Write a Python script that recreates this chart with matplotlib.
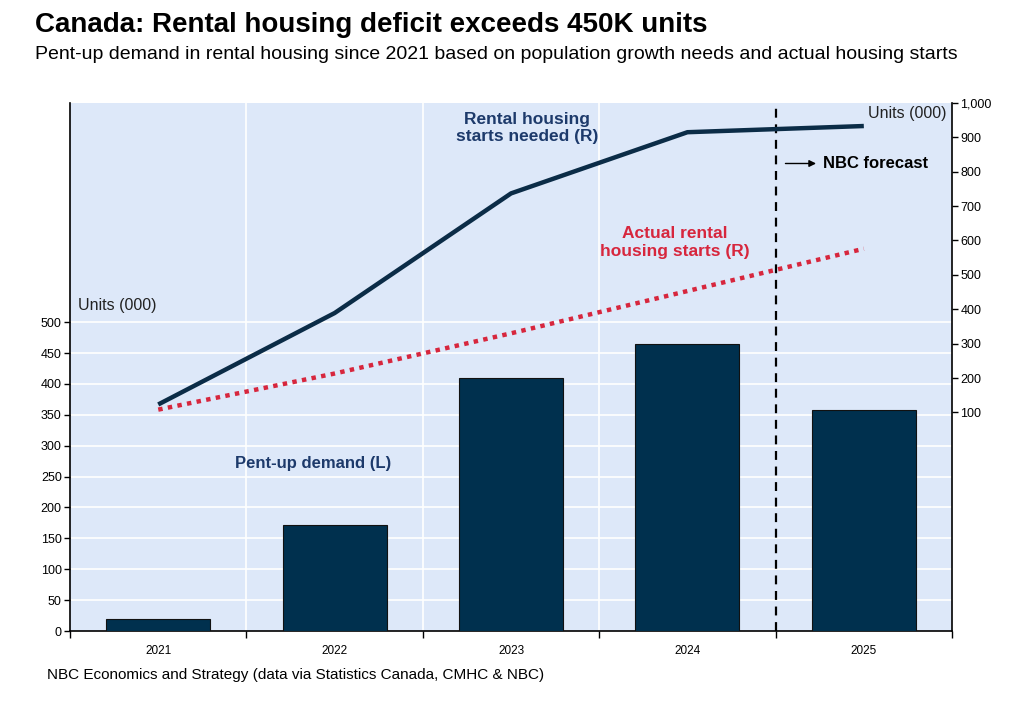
import numpy as np
import matplotlib
matplotlib.use('Agg')
import matplotlib.pyplot as plt

plt.rcParams['font.family'] = ['Liberation Sans', 'DejaVu Sans']

years = ['2021', '2022', '2023', '2024', '2025']
pent_up = [19, 172, 410, 465, 358]          # left axis, bars
needed = [123, 389, 737, 915, 933]          # right axis
actual = [108, 213, 330, 453, 576]          # right axis

navy = '#00304e'
line_navy = '#0b2c47'
red = '#d7263d'
bg = '#dde8f9'
narrow = ['Liberation Sans Narrow', 'Liberation Sans']

fig = plt.figure(figsize=(10.24, 7.03), dpi=100)
ax = fig.add_axes([0.0684, 0.1024, 0.8613, 0.7511])
ax.set_facecolor(bg)
x = np.arange(len(years))

ax.bar(x, pent_up, width=0.59, color=navy, edgecolor='#111111', linewidth=0.8, zorder=3)
ax.set_xlim(-0.5, 4.5)
ax.set_ylim(0, 855)
ax.set_yticks(np.arange(0, 501, 50))
ax.set_yticklabels([str(v) for v in range(0, 501, 50)], family=narrow, fontsize=9)
for v in range(50, 501, 50):
    ax.axhline(v, color='white', lw=1.2, zorder=1)
for b in [0.5, 1.5, 2.5]:
    ax.axvline(b, color='white', lw=1.2, zorder=1)
ax.axvline(3.5, color='black', lw=1.6, ls=(0, (4, 3)), zorder=4)

ax.set_xticks(x)
ax.set_xticklabels(years, family=narrow, fontsize=8.5)
ax.set_xticks(np.arange(-0.5, 4.6, 1), minor=True)
ax.tick_params(axis='x', which='major', length=0, pad=10)
ax.tick_params(axis='x', which='minor', length=5, width=1, direction='out')
ax.tick_params(axis='y', length=4, width=1, direction='out', pad=2)
for s in ['top', 'right']:
    ax.spines[s].set_visible(False)
ax.spines['left'].set_linewidth(1.2)
ax.spines['bottom'].set_linewidth(1.2)

ax2 = ax.twinx()
ax2.set_ylim(-536, 1000)
ax2.plot(x, needed, color=line_navy, lw=3.2, solid_capstyle='butt', zorder=5)
ax2.plot(x, actual, color=red, lw=3.2, ls=(0, (1, 1.2)), zorder=5)
ax2.set_yticks(np.arange(100, 1001, 100))
ax2.set_yticklabels(['100', '200', '300', '400', '500', '600', '700', '800', '900', '1,000'],
                    family=narrow, fontsize=9)
ax2.tick_params(axis='y', length=4, width=1, direction='out', pad=2)
for s in ['top', 'left', 'bottom']:
    ax2.spines[s].set_visible(False)
ax2.spines['right'].set_linewidth(1.2)

# annotations
ax2.text(2.09, 928, 'Rental housing\nstarts needed (R)', color='#1d3a6b', fontsize=12.5,
         fontweight='bold', ha='center', va='center', linespacing=1.2)
ax2.text(2.93, 594, 'Actual rental\nhousing starts (R)', color=red, fontsize=12.5,
         fontweight='bold', ha='center', va='center', linespacing=1.2)
ax.text(0.88, 272, 'Pent-up demand (L)', color='#1d3a6b', fontsize=12,
        fontweight='bold', ha='center', va='center')
ax.text(-0.455, 527, 'Units (000)', color='#222222', fontsize=11.5, ha='left', va='center')
ax2.text(4.466, 970, 'Units (000)', color='#222222', fontsize=11.5, ha='right', va='center')
ax2.annotate('', xy=(3.745, 824), xytext=(3.54, 824),
             arrowprops=dict(arrowstyle='-|>', color='black', lw=1, mutation_scale=10))
ax2.text(3.77, 824, 'NBC forecast', color='black', fontsize=12, fontweight='bold',
         ha='left', va='center')

fig.text(0.034, 0.964, 'Canada: Rental housing deficit exceeds 450K units', fontsize=20,
         fontweight='bold', ha='left', va='center')
fig.text(0.034, 0.923, 'Pent-up demand in rental housing since 2021 based on population growth needs and actual housing starts',
         fontsize=14, ha='left', va='center')
fig.text(0.046, 0.040, 'NBC Economics and Strategy (data via Statistics Canada, CMHC & NBC)',
         fontsize=11, ha='left', va='center')

fig.savefig('out.png', dpi=100)
